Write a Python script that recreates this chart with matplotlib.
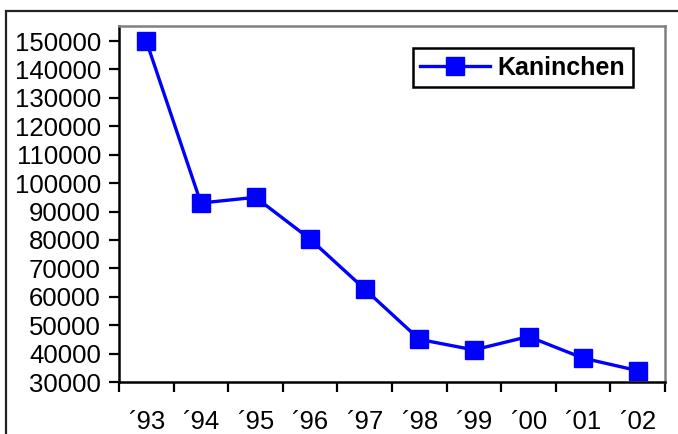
import numpy as np
import matplotlib.pyplot as plt
from matplotlib.patches import Rectangle

years = ['´93', '´94', '´95', '´96', '´97', '´98', '´99', '´00', '´01', '´02']
kaninchen = [150000, 93000, 95000, 80300, 62700, 45000, 41300, 46000, 38400, 34000]
yticks = np.arange(30000, 150001, 10000)

plt.rcParams['font.family'] = ['Liberation Sans', 'DejaVu Sans']

fig = plt.figure(figsize=(6.78, 4.34), dpi=100)
ax = fig.add_axes([119/678, 1-382/434, (665-119)/678, (382-26)/434])

# outer chart border (runs off the right and bottom edge)
fig.patches.append(Rectangle((6/678, -0.1), 1.1, 1-11/434+0.1, transform=fig.transFigure,
                             fill=False, edgecolor='#222222', linewidth=1.6))

x = np.arange(len(years))
ax.plot(x, kaninchen, color='#0000ff', linewidth=2.4, marker='s', markersize=13,
        markeredgecolor='#0000ff', label='Kaninchen')

ax.set_xlim(-0.5, len(years)-0.5)
ax.set_ylim(30000, 155300)
ax.set_yticks(yticks)
ax.set_yticklabels([str(v) for v in yticks], fontsize=18.5)

# ticks between categories, labels centred
ax.set_xticks(np.arange(-0.5, len(years)))
ax.set_xticklabels([])
ax.set_xticks(x, minor=True)
ax.set_xticklabels(years, minor=True, fontsize=18.5)
ax.tick_params(axis='x', which='minor', length=0, pad=20)
ax.tick_params(axis='x', which='major', length=7, width=1.6, direction='out')
ax.tick_params(axis='y', length=7, width=1.6, direction='out', pad=6)

for s in ['left', 'bottom']:
    ax.spines[s].set_linewidth(1.8)
    ax.spines[s].set_color('black')
for s in ['top', 'right']:
    ax.spines[s].set_linewidth(1.8)
    ax.spines[s].set_color('#808080')

leg = ax.legend(loc='upper right', bbox_to_anchor=(0.941, 0.938), fancybox=False,
                framealpha=1, edgecolor='black', handlelength=2.8, handletextpad=0.3,
                borderpad=0.3, borderaxespad=0, prop={'weight': 'bold', 'size': 18})
leg.get_frame().set_linewidth(1.8)

fig.savefig('out.png', dpi=100)
